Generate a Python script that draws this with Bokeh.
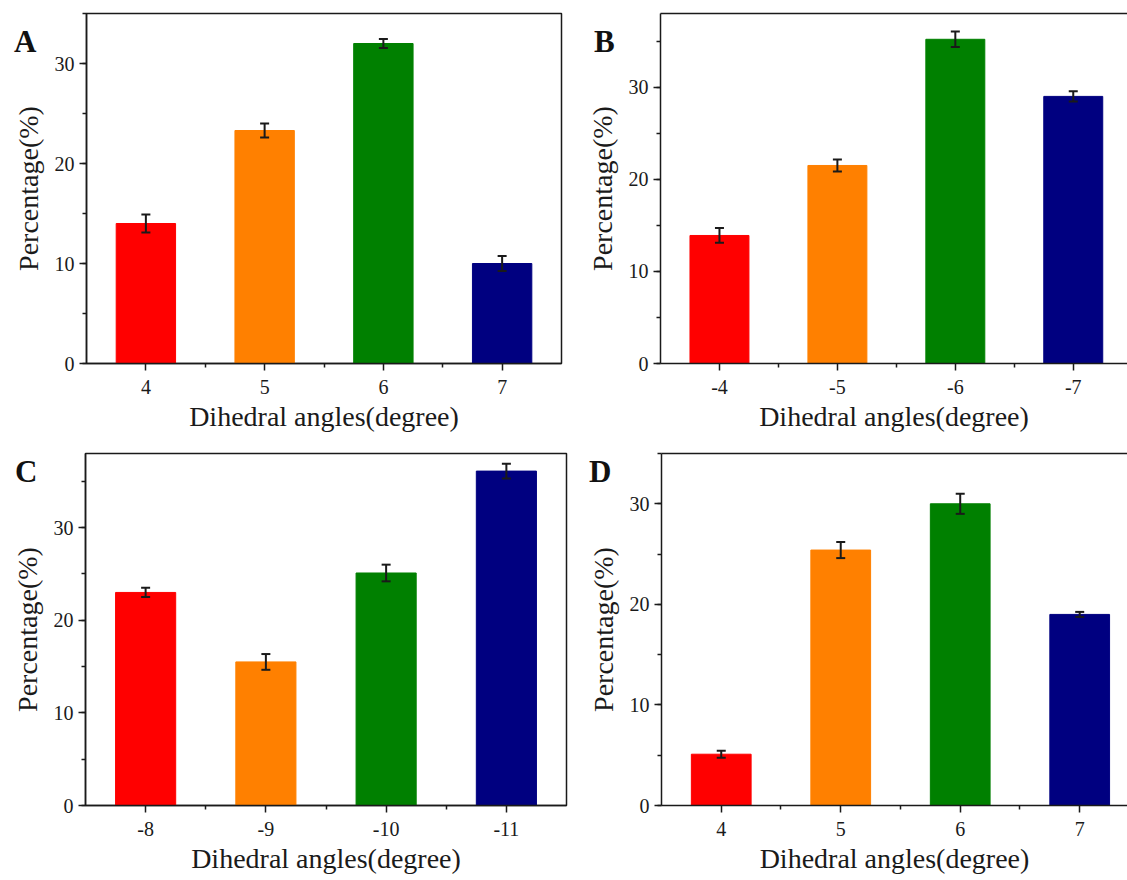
from bokeh.plotting import figure
from bokeh.models import (Range1d, FixedTicker, SingleIntervalTicker, Whisker,
                          ColumnDataSource, LinearAxis, Div)
from bokeh.layouts import row, column
from bokeh.embed import file_html
from bokeh.resources import INLINE

# ---- data ----
colors = ["#FF0000", "#FF8000", "#008000", "#000080"]

labels_A = ["4", "5", "6", "7"]
values_A = [14.0, 23.3, 32.0, 10.0]
errors_A = [0.9, 0.7, 0.45, 0.75]

labels_B = ["-4", "-5", "-6", "-7"]
values_B = [13.9, 21.5, 35.2, 29.0]
errors_B = [0.8, 0.65, 0.85, 0.55]

labels_C = ["-8", "-9", "-10", "-11"]
values_C = [23.0, 15.5, 25.1, 36.1]
errors_C = [0.5, 0.85, 0.9, 0.8]

labels_D = ["4", "5", "6", "7"]
values_D = [5.1, 25.4, 30.0, 19.0]
errors_D = [0.35, 0.8, 1.0, 0.25]

panel_letters = ["A", "B", "C", "D"]

FONT = "Liberation Serif"
INK = "#1a1a1a"


def panel(labels, values, errors, ymax, width, bl, br, bb, xend, closed):
    idx = list(range(len(labels)))
    p = figure(width=width, height=440, x_range=Range1d(-0.5, xend),
               y_range=Range1d(0, ymax), output_backend="svg",
               toolbar_location=None, min_border_left=bl, min_border_right=br,
               min_border_top=13, min_border_bottom=bb)
    p.grid.visible = False
    p.background_fill_color = "white"
    p.border_fill_color = "white"

    src = ColumnDataSource(dict(
        x=idx, top=values, color=colors,
        upper=[v + e for v, e in zip(values, errors)],
        lower=[v - e for v, e in zip(values, errors)]))
    p.vbar(x="x", top="top", width=0.5, fill_color="color",
           line_color="color", line_width=1, source=src)
    w = Whisker(source=src, base="x", upper="upper", lower="lower",
                line_color=INK, line_width=2, level="annotation")
    for h in (w.upper_head, w.lower_head):
        h.size = 9
        h.line_width = 2
        h.line_color = INK
    p.add_layout(w)

    xa = p.below[0]
    xa.ticker = FixedTicker(ticks=idx, minor_ticks=[0.5, 1.5, 2.5])
    xa.major_label_overrides = {i: l for i, l in zip(idx, labels)}
    xa.axis_label = "Dihedral angles(degree)"
    xa.axis_label_standoff = 4
    xa.major_label_standoff = 9

    ya = p.left[0]
    ya.ticker = SingleIntervalTicker(interval=10, num_minor_ticks=2)
    ya.axis_label = "Percentage(%)"
    ya.axis_label_standoff = 8
    ya.major_label_standoff = 5

    for ax in (xa, ya):
        ax.axis_line_color = INK
        ax.axis_line_width = 1.5
        ax.major_tick_line_color = INK
        ax.minor_tick_line_color = INK
        ax.major_tick_line_width = 1.5
        ax.minor_tick_line_width = 1.5
        ax.major_tick_in = 0
        ax.major_tick_out = 7
        ax.minor_tick_in = 0
        ax.minor_tick_out = 4
        ax.major_label_text_font = FONT
        ax.major_label_text_font_size = "20px"
        ax.major_label_text_color = INK
        ax.axis_label_text_font = FONT
        ax.axis_label_text_font_size = "28px"
        ax.axis_label_text_font_style = "normal"
        ax.axis_label_text_color = INK

    if closed:
        p.outline_line_color = INK
        p.outline_line_width = 1.5
    else:
        p.outline_line_color = None
        top = LinearAxis(ticker=FixedTicker(ticks=[]), major_tick_out=0,
                         major_tick_in=0, minor_tick_out=0, minor_tick_in=0,
                         major_label_standoff=0, axis_line_color=INK,
                         axis_line_width=1.5)
        p.add_layout(top, "above")
    return p


pA = panel(labels_A, values_A, errors_A, 35, 575, 86, 14, 77, 3.5, True)
pB = panel(labels_B, values_B, errors_B, 38, 552, 85, 0, 76, 3.46, False)
pC = panel(labels_C, values_C, errors_C, 38, 575, 85, 9, 72, 3.5, True)
pD = panel(labels_D, values_D, errors_D, 35, 552, 86, 0, 75, 3.40, False)


def letter_div(letter, left, top):
    return Div(text=letter, width=40, height=40,
               styles={"position": "absolute", "left": f"{left}px",
                       "top": f"{top}px", "font-family": FONT,
                       "font-size": "31px", "font-weight": "bold",
                       "line-height": "1", "color": "#111111",
                       "z-index": "10"})


divs = [letter_div(panel_letters[0], 9, 21),
        letter_div(panel_letters[1], 589, 21),
        letter_div(panel_letters[2], 10, 451),
        letter_div(panel_letters[3], 584, 451)]

layout = column(row(pA, pB), row(pC, pD), *divs)
open("out.html", "w").write(file_html(layout, INLINE))
